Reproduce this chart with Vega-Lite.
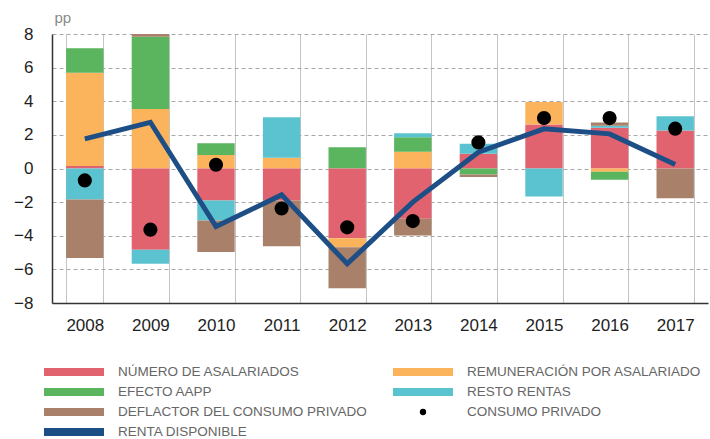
{
  "$schema": "https://vega.github.io/schema/vega-lite/v6.json",
  "width": 656,
  "height": 269,
  "autosize": {"type": "none"},
  "padding": {"left": 52, "top": 34, "right": 2, "bottom": 136},
  "background": "white",
  "config": {
    "view": {"stroke": null},
    "font": "Liberation Sans",
    "axisY": {
      "values": [-8, -6, -4, -2, 0, 2, 4, 6, 8],
      "tickCount": 9,
      "labelOverlap": false,
      "labelFontSize": 17, "labelColor": "#1e1e1e", "labelPadding": 19,
      "ticks": false, "tickSize": 0,
      "grid": true, "gridColor": "#a8a8a8", "gridDash": [4, 3], "gridWidth": 1,
      "domainColor": "#333333", "domainWidth": 1.5,
      "titleAngle": 0, "titleAlign": "left", "titleBaseline": "middle",
      "titleX": 2, "titleY": -17, "titleFontSize": 15, "titleFontWeight": "normal", "titleColor": "#8a8a8a"
    }
  },
  "datasets": {
    "barras": [
      {"anio": "2008", "serie": "NÚMERO DE ASALARIADOS", "valor": 0.15},
      {"anio": "2008", "serie": "REMUNERACIÓN POR ASALARIADO", "valor": 5.55},
      {"anio": "2008", "serie": "EFECTO AAPP", "valor": 1.45},
      {"anio": "2008", "serie": "RESTO RENTAS", "valor": -1.84},
      {"anio": "2008", "serie": "DEFLACTOR DEL CONSUMO PRIVADO", "valor": -3.49},
      {"anio": "2009", "serie": "REMUNERACIÓN POR ASALARIADO", "valor": 3.54},
      {"anio": "2009", "serie": "EFECTO AAPP", "valor": 4.3},
      {"anio": "2009", "serie": "DEFLACTOR DEL CONSUMO PRIVADO", "valor": 0.16},
      {"anio": "2009", "serie": "NÚMERO DE ASALARIADOS", "valor": -4.83},
      {"anio": "2009", "serie": "RESTO RENTAS", "valor": -0.83},
      {"anio": "2010", "serie": "REMUNERACIÓN POR ASALARIADO", "valor": 0.81},
      {"anio": "2010", "serie": "EFECTO AAPP", "valor": 0.69},
      {"anio": "2010", "serie": "NÚMERO DE ASALARIADOS", "valor": -1.9},
      {"anio": "2010", "serie": "RESTO RENTAS", "valor": -1.19},
      {"anio": "2010", "serie": "DEFLACTOR DEL CONSUMO PRIVADO", "valor": -1.88},
      {"anio": "2011", "serie": "REMUNERACIÓN POR ASALARIADO", "valor": 0.64},
      {"anio": "2011", "serie": "RESTO RENTAS", "valor": 2.41},
      {"anio": "2011", "serie": "NÚMERO DE ASALARIADOS", "valor": -1.9},
      {"anio": "2011", "serie": "DEFLACTOR DEL CONSUMO PRIVADO", "valor": -2.72},
      {"anio": "2012", "serie": "EFECTO AAPP", "valor": 1.27},
      {"anio": "2012", "serie": "NÚMERO DE ASALARIADOS", "valor": -4.15},
      {"anio": "2012", "serie": "REMUNERACIÓN POR ASALARIADO", "valor": -0.53},
      {"anio": "2012", "serie": "DEFLACTOR DEL CONSUMO PRIVADO", "valor": -2.44},
      {"anio": "2013", "serie": "REMUNERACIÓN POR ASALARIADO", "valor": 1.0},
      {"anio": "2013", "serie": "EFECTO AAPP", "valor": 0.86},
      {"anio": "2013", "serie": "RESTO RENTAS", "valor": 0.24},
      {"anio": "2013", "serie": "NÚMERO DE ASALARIADOS", "valor": -2.99},
      {"anio": "2013", "serie": "DEFLACTOR DEL CONSUMO PRIVADO", "valor": -0.99},
      {"anio": "2014", "serie": "NÚMERO DE ASALARIADOS", "valor": 0.87},
      {"anio": "2014", "serie": "RESTO RENTAS", "valor": 0.6},
      {"anio": "2014", "serie": "EFECTO AAPP", "valor": -0.36},
      {"anio": "2014", "serie": "DEFLACTOR DEL CONSUMO PRIVADO", "valor": -0.14},
      {"anio": "2015", "serie": "NÚMERO DE ASALARIADOS", "valor": 2.62},
      {"anio": "2015", "serie": "REMUNERACIÓN POR ASALARIADO", "valor": 1.33},
      {"anio": "2015", "serie": "RESTO RENTAS", "valor": -1.67},
      {"anio": "2016", "serie": "NÚMERO DE ASALARIADOS", "valor": 2.42},
      {"anio": "2016", "serie": "RESTO RENTAS", "valor": 0.12},
      {"anio": "2016", "serie": "DEFLACTOR DEL CONSUMO PRIVADO", "valor": 0.2},
      {"anio": "2016", "serie": "REMUNERACIÓN POR ASALARIADO", "valor": -0.2},
      {"anio": "2016", "serie": "EFECTO AAPP", "valor": -0.47},
      {"anio": "2017", "serie": "NÚMERO DE ASALARIADOS", "valor": 2.26},
      {"anio": "2017", "serie": "RESTO RENTAS", "valor": 0.85},
      {"anio": "2017", "serie": "DEFLACTOR DEL CONSUMO PRIVADO", "valor": -1.77}
    ],
    "renta": [
      {"anio": "2008", "valor": 1.76},
      {"anio": "2009", "valor": 2.75},
      {"anio": "2010", "valor": -3.45},
      {"anio": "2011", "valor": -1.57},
      {"anio": "2012", "valor": -5.67},
      {"anio": "2013", "valor": -2.0},
      {"anio": "2014", "valor": 0.97},
      {"anio": "2015", "valor": 2.36},
      {"anio": "2016", "valor": 2.06},
      {"anio": "2017", "valor": 0.24}
    ],
    "consumo": [
      {"anio": "2008", "valor": -0.71},
      {"anio": "2009", "valor": -3.64},
      {"anio": "2010", "valor": 0.22},
      {"anio": "2011", "valor": -2.38},
      {"anio": "2012", "valor": -3.5},
      {"anio": "2013", "valor": -3.13},
      {"anio": "2014", "valor": 1.55},
      {"anio": "2015", "valor": 3.0},
      {"anio": "2016", "valor": 3.0},
      {"anio": "2017", "valor": 2.37}
    ]
  },
  "layer": [
    {
      "data": {"name": "barras"},
      "transform": [
        {"calculate": "indexof(['NÚMERO DE ASALARIADOS','REMUNERACIÓN POR ASALARIADO','EFECTO AAPP','RESTO RENTAS','DEFLACTOR DEL CONSUMO PRIVADO'], datum.serie)", "as": "orden"}
      ],
      "mark": {"type": "bar"},
      "encoding": {
        "x": {
          "field": "anio", "type": "ordinal",
          "scale": {"paddingInner": 0.43, "paddingOuter": 0.215},
          "axis": {
            "title": null, "labelAngle": 0, "labelFontSize": 17, "labelColor": "#1e1e1e",
            "labelPadding": 14, "ticks": false, "tickSize": 0, "tickBand": "extent",
            "grid": true, "gridColor": "#c4c4c4", "gridWidth": 1,
            "domainColor": "#333333", "domainWidth": 1.5
          }
        },
        "y": {
          "field": "valor", "type": "quantitative", "stack": "zero",
          "scale": {"domain": [-8, 8], "nice": false},
          "axis": {"title": "pp", "values": [-8, -6, -4, -2, 0, 2, 4, 6, 8], "labelOverlap": false}
        },
        "color": {
          "field": "serie", "type": "nominal",
          "scale": {
            "domain": ["NÚMERO DE ASALARIADOS", "REMUNERACIÓN POR ASALARIADO", "EFECTO AAPP", "RESTO RENTAS", "DEFLACTOR DEL CONSUMO PRIVADO", "CONSUMO PRIVADO", "RENTA DISPONIBLE"],
            "range": ["#e0636f", "#fbb45c", "#5ab55e", "#5bc3d0", "#a9806a", "#000000", "#1d4f86"]
          },
          "legend": {
            "title": null,
            "orient": "none",
            "legendX": -8,
            "legendY": 330,
            "direction": "horizontal",
            "columns": 2,
            "gridAlign": "each",
            "columnPadding": 25,
            "rowPadding": 4,
            "clipHeight": 16,
            "symbolSize": 3600,
            "symbolOffset": 0,
            "labelOffset": 14,
            "labelFont": "Liberation Sans",
            "labelFontSize": 13.5,
            "labelColor": "#666666",
            "labelLimit": 400,
            "encode": {
              "symbols": {
                "update": {
                  "shape": {"signal": "datum.value === 'CONSUMO PRIVADO' ? 'circle' : 'M-1,-0.13H1V0.13H-1Z'"},
                  "size": {"signal": "datum.value === 'CONSUMO PRIVADO' ? 40 : 3600"},
                  "fill": {"scale": "color", "field": "value"},
                  "stroke": {"value": "transparent"},
                  "strokeWidth": {"value": 0},
                  "opacity": {"value": 1}
                }
              }
            }
          }
        },
        "order": {"field": "orden", "type": "quantitative"}
      }
    },
    {
      "mark": {"type": "rule", "color": "#333333", "strokeWidth": 1.5},
      "encoding": {"y": {"datum": 0}}
    },
    {
      "data": {"name": "renta"},
      "mark": {"type": "line", "strokeWidth": 5, "strokeJoin": "miter"},
      "encoding": {
        "x": {"field": "anio", "type": "ordinal"},
        "y": {"field": "valor", "type": "quantitative", "axis": {"title": "pp", "values": [-8, -6, -4, -2, 0, 2, 4, 6, 8], "labelOverlap": false}},
        "color": {"datum": "RENTA DISPONIBLE", "type": "nominal"}
      }
    },
    {
      "data": {"name": "consumo"},
      "mark": {"type": "circle", "size": 200, "opacity": 1},
      "encoding": {
        "x": {"field": "anio", "type": "ordinal"},
        "y": {"field": "valor", "type": "quantitative", "axis": {"title": "pp", "values": [-8, -6, -4, -2, 0, 2, 4, 6, 8], "labelOverlap": false}},
        "color": {"datum": "CONSUMO PRIVADO", "type": "nominal"}
      }
    }
  ]
}
